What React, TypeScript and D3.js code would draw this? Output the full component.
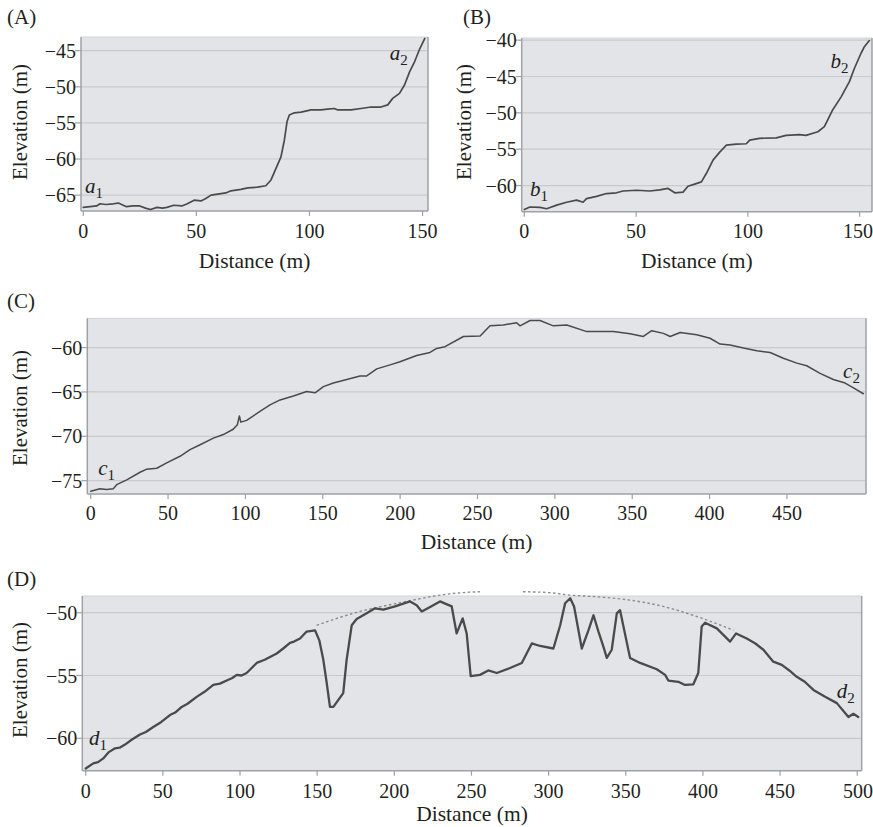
import React from 'react';
import * as d3 from 'd3';

// ---------- Data (distance in m, elevation in m) ----------
const aDist = [0, 3, 5.9, 7.4, 10, 13.3, 15.5, 19.1, 22, 25, 27.5, 29.7, 32.6, 35, 37, 40, 43.6, 46, 49, 52, 54, 56.5, 60.9, 63, 65.3, 69.7, 72.7, 77, 80.7, 83, 85.2, 87.4, 88.9, 90.1, 91.1, 93.3, 96.3, 100.7, 105.1, 108, 111, 112.5, 118.4, 122.8, 127.2, 131.6, 134.6, 136.8, 139.8, 142, 144.3, 146.5, 148.8, 151];
const aElev = [-66.7, -66.6, -66.5, -66.2, -66.3, -66.2, -66.1, -66.6, -66.5, -66.5, -66.8, -67.0, -66.7, -66.8, -66.7, -66.4, -66.5, -66.2, -65.7, -65.8, -65.5, -65.0, -64.8, -64.7, -64.4, -64.2, -64.0, -63.9, -63.7, -62.9, -61.3, -59.7, -57.4, -54.8, -53.9, -53.6, -53.5, -53.2, -53.2, -53.1, -53.0, -53.2, -53.2, -53.0, -52.8, -52.8, -52.5, -51.6, -50.9, -49.75, -47.9, -46.5, -44.7, -43.3];

const bDist = [0, 2.5, 7, 10, 14.5, 18.9, 23.4, 26.3, 27.8, 32.3, 36.8, 41.2, 44.2, 50.2, 56.1, 60.6, 64.3, 67.3, 71, 73.2, 76.2, 79.2, 81.4, 84.4, 87.4, 90.4, 94.8, 99.3, 100.8, 105.2, 112.7, 117.1, 123, 126, 131.3, 134.2, 137.9, 141.7, 145.4, 147.6, 150.6, 152.1, 154.3];
const bElev = [-63.3, -62.95, -63.0, -63.2, -62.7, -62.3, -62.0, -62.3, -61.8, -61.5, -61.1, -61.0, -60.75, -60.65, -60.75, -60.6, -60.4, -61.0, -60.9, -60.1, -59.8, -59.5, -58.35, -56.5, -55.4, -54.45, -54.3, -54.25, -53.75, -53.5, -53.45, -53.1, -53.0, -53.1, -52.6, -51.9, -49.6, -47.8, -45.7, -43.9, -41.8, -40.9, -40.05];

const cDist = [0, 6, 10.3, 14.6, 16.8, 23.3, 31.9, 36.2, 42.7, 49.1, 57.7, 64.2, 70.7, 79.3, 85.7, 92.1, 94.8, 96.1, 97, 100.8, 109.4, 115.9, 122.4, 131, 139.6, 145, 150.4, 156.8, 165.5, 174.1, 178.4, 184.9, 193.5, 199.9, 210.7, 219.3, 223.6, 229, 240.9, 251.7, 258.1, 266.7, 275.3, 277.5, 284, 290.4, 299, 307.7, 320.6, 337.8, 348.6, 357.2, 362.6, 370.2, 374.5, 381, 391.7, 400.3, 406.8, 413.3, 421.9, 430.5, 439.1, 447.7, 456.4, 462.8, 471.4, 480, 487.6, 493, 499.4];
const cElev = [-76.2, -75.9, -76.0, -75.9, -75.45, -74.9, -74.05, -73.7, -73.6, -73.0, -72.25, -71.5, -70.95, -70.2, -69.8, -69.2, -68.7, -67.7, -68.4, -68.2, -67.2, -66.45, -65.9, -65.45, -64.95, -65.1, -64.4, -64.0, -63.6, -63.2, -63.2, -62.4, -61.95, -61.6, -60.9, -60.55, -60.1, -59.9, -58.75, -58.7, -57.55, -57.45, -57.2, -57.55, -56.95, -56.95, -57.55, -57.45, -58.2, -58.2, -58.45, -58.75, -58.1, -58.4, -58.75, -58.3, -58.55, -58.95, -59.6, -59.7, -60.05, -60.35, -60.55, -61.2, -61.75, -62.05, -62.9, -63.6, -64.0, -64.55, -65.2];

const dDist = [0, 4.9, 8, 11.4, 15, 19, 22, 25.5, 30, 35.2, 39, 43.8, 49, 54.6, 58, 62.2, 66, 71.9, 77, 82.7, 87, 91.4, 95, 97.9, 101, 104.3, 110.8, 116, 123.8, 128, 132.4, 135, 138.9, 143.2, 148.6, 151.4, 154, 156.2, 158.3, 160.5, 166.9, 169.1, 172.4, 175.6, 182.1, 187.5, 192.9, 200.5, 210.2, 214.5, 217.8, 223.2, 229.6, 237.2, 240.4, 244.3, 246.9, 249.5, 255.5, 260.9, 266.4, 275, 282.6, 289.1, 294.5, 303.1, 307.5, 310.7, 314, 316.5, 321.5, 325.8, 329.1, 332.3, 335.5, 337.7, 340.9, 344.2, 346.3, 348.5, 352.8, 359.3, 370.1, 375.5, 377.6, 384.1, 388.4, 393.8, 397, 399.2, 401.4, 409, 417.6, 421.5, 428.4, 434, 439.2, 445.6, 451.1, 456, 460.8, 466, 471.6, 479.2, 486.8, 494.3, 497.5, 500.7];
const dElev = [-62.4, -62.0, -61.9, -61.6, -61.1, -60.8, -60.75, -60.5, -60.1, -59.7, -59.5, -59.1, -58.7, -58.15, -57.95, -57.5, -57.25, -56.7, -56.3, -55.75, -55.65, -55.4, -55.2, -54.95, -55.0, -54.8, -54.0, -53.75, -53.25, -52.85, -52.4, -52.3, -52.05, -51.5, -51.4, -52.2, -53.75, -55.6, -57.5, -57.5, -56.4, -53.75, -51.0, -50.5, -50.05, -49.65, -49.75, -49.5, -49.1, -49.4, -49.9, -49.55, -49.1, -49.5, -51.65, -50.45, -51.65, -55.05, -54.95, -54.6, -54.8, -54.4, -54.0, -52.45, -52.65, -52.85, -51.0, -49.25, -48.85, -49.5, -52.85, -51.4, -50.2, -51.5, -52.7, -53.6, -52.95, -50.05, -49.8, -51.1, -53.6, -54.0, -54.5, -54.95, -55.4, -55.5, -55.75, -55.7, -54.8, -51.1, -50.8, -51.25, -52.3, -51.65, -52.05, -52.45, -52.95, -53.9, -54.15, -54.6, -55.1, -55.5, -56.15, -56.7, -57.2, -58.3, -58.05, -58.3];

// dashed reconstructed surface in panel D (two pieces, gap between)
const dRimDist1 = [149.7, 177.8, 200, 212, 229.6, 244.7, 255.5];
const dRimElev1 = [-51.0, -49.9, -49.3, -49.0, -48.6, -48.4, -48.33];
const dRimDist2 = [283.4, 300, 314, 331.2, 352.8, 374.3, 396, 419.8];
const dRimElev2 = [-48.33, -48.4, -48.6, -48.73, -49.0, -49.5, -50.3, -51.4];

// ticks
const abXTicks = [0, 50, 100, 150];
const cXTicks = [0, 50, 100, 150, 200, 250, 300, 350, 400, 450];
const dXTicks = [0, 50, 100, 150, 200, 250, 300, 350, 400, 450, 500];
const aYTicks = [-45, -50, -55, -60, -65];
const bYTicks = [-40, -45, -50, -55, -60];
const cYTicks = [-60, -65, -70, -75];
const dYTicks = [-50, -55, -60];

const FONT = "'Liberation Serif', 'DejaVu Serif', 'Times New Roman', serif";
const BG = '#e2e4e7';
const GRID = '#c8cacd';
const AXIS = '#9fa1a4';
const INK = '#231f20';
const LINE = '#4a4a4a';

type Pt = [number, number];

type PanelProps = {
  tag: string;
  tagX: number;
  tagY: number;
  dist: number[];
  elev: number[];
  xDomain: [number, number];
  yDomain: [number, number];
  left: number;
  right: number;
  top: number;
  bottom: number;
  xTicks: number[];
  yTicks: number[];
  titleX: number;
  titleYCenter: number;
  xTitleY: number;
  tickLabelY: number;
  lineWidth: number;
  start: { letter: string; x: number; y: number };
  end: { letter: string; x: number; y: number };
  rims?: { d: number[]; e: number[] }[];
};

function Sub({ x, y, letter, idx }: { x: number; y: number; letter: string; idx: string }) {
  return (
    <text x={x} y={y} style={{ fontFamily: FONT }} fontSize={21} fill={INK}>
      <tspan fontStyle="italic">{letter}</tspan>
      <tspan fontSize={15} dy={5}>{idx}</tspan>
    </text>
  );
}

function Panel(p: PanelProps) {
  const x = d3.scaleLinear().domain(p.xDomain).range([p.left, p.right]);
  const y = d3.scaleLinear().domain(p.yDomain).range([p.bottom, p.top]);
  const pts = p.dist.map((d, i) => [d, p.elev[i]] as Pt);
  const line = d3
    .line<Pt>()
    .x((d) => x(d[0]))
    .y((d) => y(d[1]))
    .curve(d3.curveLinear);
  const rimLine = d3
    .line<Pt>()
    .x((d) => x(d[0]))
    .y((d) => y(d[1]))
    .curve(d3.curveMonotoneX);
  const fmt = (v: number) => (v < 0 ? '\u2212' + Math.abs(v) : String(v));
  const ts = { fontFamily: FONT };
  return (
    <g>
      <text x={p.tagX} y={p.tagY} style={ts} fontSize={21} fill={INK}>
        {p.tag}
      </text>
      <rect x={p.left} y={p.top} width={p.right - p.left} height={p.bottom - p.top} fill={BG} />
      {p.yTicks.map((t) => (
        <line key={'g' + t} x1={p.left} x2={p.right} y1={y(t)} y2={y(t)} stroke={GRID} strokeWidth={1.2} />
      ))}
      <line x1={p.left} x2={p.right} y1={p.top} y2={p.top} stroke="#d2d4d7" strokeWidth={1} />
      <line x1={p.right} x2={p.right} y1={p.top} y2={p.bottom} stroke={AXIS} strokeWidth={1.5} />
      <line x1={p.left} x2={p.left} y1={p.top} y2={p.bottom} stroke={AXIS} strokeWidth={1.5} />
      <line x1={p.left} x2={p.right} y1={p.bottom} y2={p.bottom} stroke={AXIS} strokeWidth={1.5} />
      {p.yTicks.map((t) => (
        <g key={'y' + t}>
          <line x1={p.left - 6} x2={p.left} y1={y(t)} y2={y(t)} stroke={AXIS} strokeWidth={1.2} />
          <text x={p.left - 5} y={y(t)} dy="0.35em" textAnchor="end" style={ts} fontSize={20} fill={INK}>
            {fmt(t)}
          </text>
        </g>
      ))}
      {p.xTicks.map((t) => {
        const cx = x(t);
        const nearEdge = cx + 16 > 873;
        return (
          <g key={'x' + t}>
            <line x1={cx} x2={cx} y1={p.bottom} y2={p.bottom + 5} stroke={AXIS} strokeWidth={1.2} />
            <text
              x={nearEdge ? 873 : cx}
              y={p.tickLabelY}
              textAnchor={nearEdge ? 'end' : 'middle'}
              style={ts}
              fontSize={20}
              fill={INK}
            >
              {fmt(t)}
            </text>
          </g>
        );
      })}
      <text x={(p.left + p.right) / 2} y={p.xTitleY} textAnchor="middle" style={ts} fontSize={21.5} fill={INK}>
        Distance (m)
      </text>
      <text
        transform={`translate(${p.titleX},${p.titleYCenter}) rotate(-90)`}
        textAnchor="middle"
        dy="0.35em"
        style={ts}
        fontSize={21}
        fill={INK}
      >
        Elevation (m)
      </text>
      {(p.rims || []).map((r, k) => (
        <path
          key={'r' + k}
          d={rimLine(r.d.map((d, i) => [d, r.e[i]] as Pt)) || ''}
          fill="none"
          stroke="#8c8c8c"
          strokeWidth={1.4}
          strokeDasharray="2.5 2.5"
        />
      ))}
      <path
        d={line(pts) || ''}
        fill="none"
        stroke={LINE}
        strokeWidth={p.lineWidth}
        strokeLinejoin="round"
        strokeLinecap="round"
      />
      <Sub x={x(p.start.x)} y={y(p.start.y)} letter={p.start.letter} idx="1" />
      <Sub x={x(p.end.x)} y={y(p.end.y)} letter={p.end.letter} idx="2" />
    </g>
  );
}

export default function App() {
  return (
    <svg
      width={873}
      height={827}
      style={{ display: 'block', position: 'absolute', left: 0, top: 0, background: '#fff', fontFamily: FONT }}
    >
      <rect x={0} y={0} width={873} height={827} fill="#fff" />
      <Panel
        tag="(A)"
        tagX={7}
        tagY={24}
        dist={aDist}
        elev={aElev}
        xDomain={[-1, 152.4]}
        yDomain={[-67.2, -43.1]}
        left={81}
        right={428}
        top={37}
        bottom={211}
        xTicks={abXTicks}
        yTicks={aYTicks}
        titleX={20}
        titleYCenter={122}
        xTitleY={268}
        tickLabelY={238}
        lineWidth={1.7}
        start={{ letter: 'a', x: 0.75, y: -64.7 }}
        end={{ letter: 'a', x: 135.5, y: -46.3 }}
      />
      <Panel
        tag="(B)"
        tagX={463}
        tagY={24}
        dist={bDist}
        elev={bElev}
        xDomain={[-1.16, 155.5]}
        yDomain={[-63.6, -39.7]}
        left={521.7}
        right={872}
        top={38}
        bottom={211.7}
        xTicks={abXTicks}
        yTicks={bYTicks}
        titleX={464}
        titleYCenter={122}
        xTitleY={268}
        tickLabelY={238}
        lineWidth={1.7}
        start={{ letter: 'b', x: 2.5, y: -61.5 }}
        end={{ letter: 'b', x: 136.9, y: -43.8 }}
      />
      <Panel
        tag="(C)"
        tagX={7}
        tagY={308}
        dist={cDist}
        elev={cElev}
        xDomain={[-2.2, 501.1]}
        yDomain={[-76.5, -56.7]}
        left={87.3}
        right={866}
        top={318.3}
        bottom={494}
        xTicks={cXTicks}
        yTicks={cYTicks}
        titleX={20}
        titleYCenter={408}
        xTitleY={549}
        tickLabelY={520}
        lineWidth={1.5}
        start={{ letter: 'c', x: 4.8, y: -74.4 }}
        end={{ letter: 'c', x: 486.3, y: -63.4 }}
      />
      <Panel
        tag="(D)"
        tagX={7}
        tagY={586}
        dist={dDist}
        elev={dElev}
        xDomain={[-2.2, 502.9]}
        yDomain={[-62.58, -48.67]}
        left={82.3}
        right={861.7}
        top={596}
        bottom={770.7}
        xTicks={dXTicks}
        yTicks={dYTicks}
        titleX={20}
        titleYCenter={680}
        xTitleY={821}
        tickLabelY={798}
        lineWidth={2.3}
        start={{ letter: 'd', x: 2.1, y: -60.5 }}
        end={{ letter: 'd', x: 486.7, y: -56.8 }}
        rims={[
          { d: dRimDist1, e: dRimElev1 },
          { d: dRimDist2, e: dRimElev2 },
        ]}
      />
    </svg>
  );
}
